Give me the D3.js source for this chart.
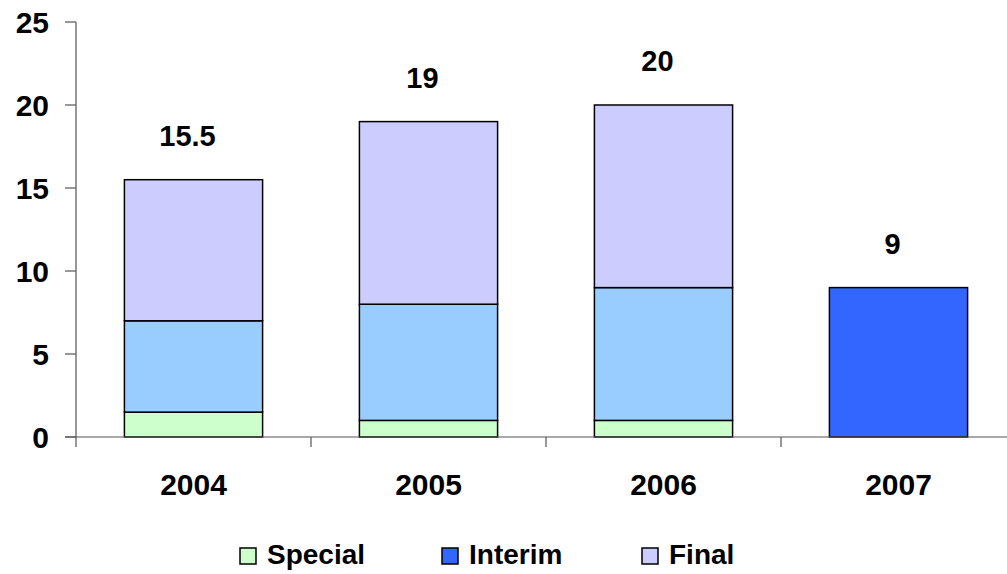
<!DOCTYPE html>
<html>
<head>
<meta charset="utf-8">
<script src="https://cdn.jsdelivr.net/npm/d3@7"></script>
<style>
  html, body { margin: 0; padding: 0; background: #fff; }
  svg { display: block; }
  text { font-family: Arial, "Liberation Sans", sans-serif; font-weight: bold; fill: #000; }
</style>
</head>
<body>
<svg id="chart" width="1007" height="574"></svg>
<script>
const categories = ["2004", "2005", "2006", "2007"];
const special = [1.5, 1, 1, 0];
const interim = [5.5, 7, 8, 9];
const finalVals = [8.5, 11, 11, 0];
const totalLabels = ["15.5", "19", "20", "9"];
const yTicks = [0, 5, 10, 15, 20, 25];
const seriesNames = ["Special", "Interim", "Final"];

(function () {
const colors = { Special: "#CCFFCC", Interim: "#99CCFF", InterimCurrent: "#3366FF", Final: "#CCCCFF" };

const rows = categories.map((c, i) => ({ cat: c, Special: special[i], Interim: interim[i], Final: finalVals[i], label: totalLabels[i] }));

const svg = d3.select("#chart");
const mLeft = 76, mRight = 1016, mTop = 22, mBottom = 437;

const x = d3.scaleBand().domain(categories).range([mLeft, mRight]).padding(0);
const y = d3.scaleLinear().domain([0, 25]).range([mBottom, mTop]);
const barW = x.bandwidth() * 0.588;

const stack = d3.stack().keys(seriesNames);
const stacked = stack(rows);

const g = svg.append("g");
stacked.forEach(layer => {
  g.selectAll(null).data(layer.filter(d => d[1] - d[0] > 0)).enter().append("rect")
    .attr("x", d => x(d.data.cat) + x.bandwidth() / 2 - barW / 2)
    .attr("y", d => y(d[1]))
    .attr("width", barW)
    .attr("height", d => y(d[0]) - y(d[1]))
    .attr("fill", d => layer.key === "Interim" && d.data.Special === 0 && d.data.Final === 0 ? colors.InterimCurrent : colors[layer.key])
    .attr("stroke", "#000")
    .attr("stroke-width", 1.5);
});

// Y axis
const yAxis = svg.append("g");
yAxis.append("line").attr("x1", mLeft).attr("x2", mLeft).attr("y1", y(25)).attr("y2", y(0)).attr("stroke", "#555").attr("stroke-width", 1.2);
yTicks.forEach(t => {
  yAxis.append("line").attr("x1", mLeft - 11).attr("x2", mLeft).attr("y1", y(t)).attr("y2", y(t)).attr("stroke", "#555").attr("stroke-width", 1.2);
  yAxis.append("text").attr("x", 49).attr("y", y(t)).attr("dy", "0.36em").attr("text-anchor", "end").style("font-size", "30px").text(t);
});

// X axis
const xAxis = svg.append("g");
xAxis.append("line").attr("x1", mLeft - 11).attr("x2", mRight).attr("y1", y(0)).attr("y2", y(0)).attr("stroke", "#555").attr("stroke-width", 1.2);
categories.concat([null]).forEach(c => {
  const bx = c ? x(c) : mRight;
  xAxis.append("line").attr("x1", bx).attr("x2", bx).attr("y1", y(0)).attr("y2", y(0) + 10).attr("stroke", "#555").attr("stroke-width", 1.2);
});
categories.forEach(c => {
  xAxis.append("text").attr("x", x(c) + x.bandwidth() / 2).attr("y", 495).attr("text-anchor", "middle").style("font-size", "30px").text(c);
});

// Total labels
rows.forEach(r => {
  const total = r.Special + r.Interim + r.Final;
  svg.append("text").attr("x", x(r.cat) + x.bandwidth() / 2 - 6).attr("y", y(total) - 34)
    .attr("text-anchor", "middle").style("font-size", "29px").text(r.label);
});

// Legend
const legendX = [240, 442, 642];
const legendColors = [colors.Special, colors.InterimCurrent, colors.Final];
seriesNames.forEach((s, i) => {
  svg.append("rect").attr("x", legendX[i]).attr("y", 548).attr("width", 16).attr("height", 16)
    .attr("fill", legendColors[i]).attr("stroke", "#000").attr("stroke-width", 1.5);
  svg.append("text").attr("x", legendX[i] + 27).attr("y", 564).style("font-size", "28px").text(s);
});
})();
</script>
</body>
</html>
